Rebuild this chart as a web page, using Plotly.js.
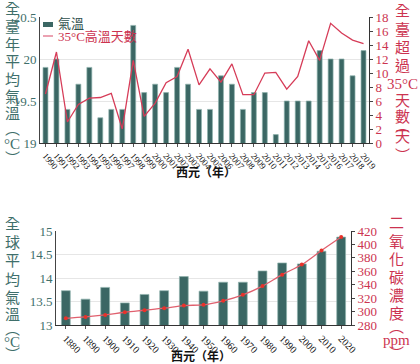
<!DOCTYPE html>
<html><head><meta charset="utf-8">
<script src="https://cdn.plot.ly/plotly-3.0.1.min.js"></script>
<style>html,body{margin:0;padding:0;background:#fff}</style>
</head><body><div id="chart" style="width:420px;height:364px"></div>
<script>
// ---- data: Taiwan (top chart)
const taiwanYears = ['1990','1991','1992','1993','1994','1995','1996','1997','1998','1999','2000','2001','2002','2003','2004','2005','2006','2007','2008','2009','2010','2011','2012','2013','2014','2015','2016','2017','2018','2019'];
const taiwanTemp = [19.9,20.0,19.4,19.7,19.9,19.3,19.4,19.4,20.4,19.6,19.7,19.6,19.9,19.7,19.4,19.4,19.8,19.7,19.4,19.6,19.6,19.1,19.5,19.5,19.5,20.1,20.0,20.0,19.8,20.1];
const hotDays = [7.0,13.0,3.0,5.5,6.4,6.5,7.1,2.0,11.8,3.8,5.7,8.6,9.5,13.4,8.3,10.6,8.7,11.3,6.9,6.9,10.0,10.1,7.7,9.5,14.6,11.8,17.1,15.7,14.7,14.2];
// ---- data: global (bottom chart)
const globalYears = ['1880','1890','1900','1910','1920','1930','1940','1950','1960','1970','1980','1990','2000','2010','2020'];
const globalTemp = [13.73,13.55,13.8,13.47,13.65,13.73,14.03,13.72,13.91,13.91,14.15,14.32,14.3,14.57,14.87];
const co2 = [290,292,295,299,302,305,309,310,316,325,338,355,370,391,411];
// ---- labels
const leftTitleTop = ['全','臺','年','平','均','氣','溫','︵','°C','︶'];
const rightTitleTop = ['全','臺','超','過','35°C','天','數','︵','天','︶'];
const leftTitleBottom = ['全','球','平','均','氣','溫','︵','°C','︶'];
const rightTitleBottom = ['二','氧','化','碳','濃','度','︵','ppm','︶'];
const xTitle = '西元（年）';
const legendTemp = '氣溫';
const legendDays = '35°C高溫天數';

const TEAL = '#3f6f6b';
const BAR = '#3b6764';
const RED = '#cc3350';
const LINE = '#d63c58';
const SERIF = 'Liberation Serif, Noto Sans CJK TC, serif';
const CJK = 'Liberation Serif, Noto Sans CJK TC, sans-serif';

const L = 40, R = 369, T = 17, B = 325;
function px(x){ return (x - L) / (R - L); }
function py(y){ return (B - y) / (B - T); }

const annotations = [];
function stack(chars, xc, ys, color){
  chars.forEach((c,i)=>annotations.push({
    text:c, xref:'paper', yref:'paper', x:px(xc), y:py(ys[i]),
    xanchor:'center', yanchor:'middle', showarrow:false,
    font:{family:CJK, size:15, color:color}
  }));
}
stack(leftTitleTop, 12, [9,27,45,62,80,97,114,129,144,159], TEAL);
stack(rightTitleTop, 402, [11,30,48,66,84,101,117,126,137,156], RED);
stack(leftTitleBottom, 12, [224,243,261,280,298,315,329,342,355], TEAL);
stack(rightTitleBottom, 397, [223,242,260,278,296,314,327,340,354], RED);
annotations.push({text:'<b>'+xTitle+'</b>', xref:'paper', yref:'paper', x:px(206), y:py(171),
  xanchor:'center', yanchor:'middle', showarrow:false, font:{family:'Noto Sans CJK TC', size:12, color:'#111'}});
annotations.push({text:'<b>'+xTitle+'</b>', xref:'paper', yref:'paper', x:px(201), y:py(355),
  xanchor:'center', yanchor:'middle', showarrow:false, font:{family:'Noto Sans CJK TC', size:12, color:'#111'}});
// legend (drawn by hand for tight spacing)
annotations.push({text:legendTemp, xref:'paper', yref:'paper', x:px(56), y:py(24),
  xanchor:'left', yanchor:'middle', showarrow:false, font:{family:CJK, size:13, color:'#2f4f4c'}});
annotations.push({text:legendDays, xref:'paper', yref:'paper', x:px(56), y:py(36),
  xanchor:'left', yanchor:'middle', showarrow:false, font:{family:CJK, size:13, color:RED}});
const shapes = [
  {type:'rect', xref:'paper', yref:'paper', x0:px(43), x1:px(53), y0:py(22), y1:py(27),
   fillcolor:BAR, line:{width:0}},
  {type:'line', xref:'paper', yref:'paper', x0:px(43), x1:px(53), y0:py(36), y1:py(36),
   line:{color:'#e07088', width:1.3}}
];

const traces = [
  {type:'bar', x:taiwanYears, y:taiwanTemp, xaxis:'x', yaxis:'y', name:legendTemp,
   marker:{color:BAR, line:{color:'#8fb3ae', width:0.7}}},
  {type:'scatter', mode:'lines', x:taiwanYears, y:hotDays, xaxis:'x', yaxis:'y2', name:legendDays,
   line:{color:LINE, width:1.3}},
  {type:'bar', x:globalYears, y:globalTemp, xaxis:'x2', yaxis:'y3',
   marker:{color:BAR, line:{color:'#8fb3ae', width:0.7}}},
  {type:'scatter', mode:'lines+markers', x:globalYears, y:co2, xaxis:'x2', yaxis:'y4',
   line:{color:'#e0606e', width:1.3, shape:'spline'}, marker:{color:'#e8322a', size:4}}
];

const topDom = [py(143), 1];
const botDom = [0, py(231)];
const xcommon = {type:'category', tickmode:'linear', tick0:0, dtick:1,
  showline:true, linecolor:'#333', linewidth:1, ticks:'outside', ticklen:3, tickcolor:'#555',
  showgrid:false, fixedrange:true};
const ylcommon = {tickfont:{family:SERIF, size:13, color:TEAL}, showline:true, linecolor:'#444',
  linewidth:1, showgrid:true, gridcolor:'#e6e6e6', zeroline:false, ticks:''};
const yrcommon = {tickfont:{family:SERIF, size:13, color:RED}, showline:true, linecolor:'#333',
  linewidth:1, showgrid:false, zeroline:false, ticks:'outside', ticklen:3, tickcolor:'#444', side:'right'};

const layout = {
  width:420, height:364, margin:{l:L, r:420-R, t:T, b:364-B},
  paper_bgcolor:'#fff', plot_bgcolor:'#fff', bargap:0.55,
  showlegend:false,
  xaxis:Object.assign({}, xcommon, {domain:[0,1], anchor:'y', range:[-0.5,29.5], tickangle:50,
    tickfont:{family:SERIF, size:9, color:'#111'}}),
  yaxis:Object.assign({}, ylcommon, {domain:topDom, anchor:'x', range:[19,20.5], dtick:0.5}),
  yaxis2:Object.assign({}, yrcommon, {overlaying:'y', anchor:'x', range:[0,18], dtick:2}),
  xaxis2:Object.assign({}, xcommon, {domain:[px(56), px(351)], anchor:'y3', range:[-0.5,14.5], tickangle:45,
    tickfont:{family:SERIF, size:10, color:'#111'}}),
  yaxis3:Object.assign({}, ylcommon, {domain:botDom, anchor:'x2', range:[13,15], dtick:0.5}),
  yaxis4:Object.assign({}, yrcommon, {overlaying:'y3', anchor:'x2', range:[280,420], dtick:20}),
  annotations:annotations, shapes:shapes
};

Plotly.newPlot('chart', traces, layout, {displayModeBar:false, staticPlot:true});
</script></body></html>
